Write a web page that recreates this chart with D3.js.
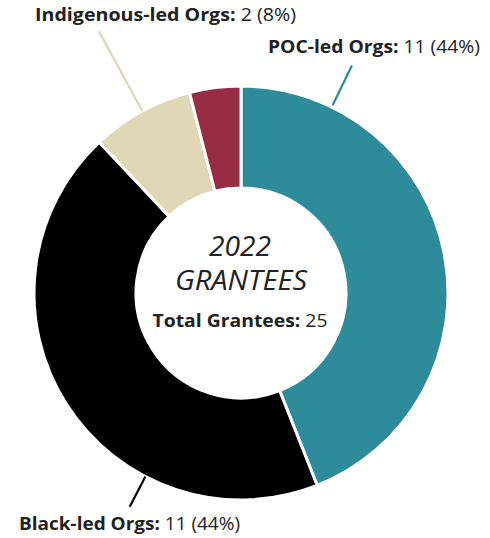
<!DOCTYPE html>
<html>
<head>
<meta charset="utf-8">
<script src="https://cdn.jsdelivr.net/npm/d3@7"></script>
<style>
  body { margin: 0; background: #fff; }
  text { font-family: "Open Sans", sans-serif; fill: #222; }
</style>
</head>
<body>
<div id="vis"></div>
<script>
// chart data
const categories = ["POC-led Orgs", "Black-led Orgs", "Indigenous-led Orgs", "Other"]
const values = [11, 11, 2, 1]
const colors = ["#2e8b9a", "#000000", "#dfd7b6", "#972d43"]
const showLabel = [true, true, true, false]
const totalGrantees = 25

const width = 490
const height = 538
const cx = 241
const cy = 293
const outerR = 207
const innerR = 105

const svg = d3.select("#vis")
    .append("svg")
    .attr("width", width)
    .attr("height", height)

const g = svg.append("g")
    .attr("transform", `translate(${cx}, ${cy})`)

const data = categories.map((c, i) => ({ name: c, value: values[i], color: colors[i], label: showLabel[i] }))

const pie = d3.pie()
    .sort(null)
    .value(d => d.value)

const arc = d3.arc()
    .innerRadius(innerR)
    .outerRadius(outerR)

const arcs = pie(data)

g.selectAll(".slice")
    .data(arcs)
    .enter()
    .append("path")
    .attr("class", "slice")
    .attr("d", arc)
    .attr("fill", d => d.data.color)
    .attr("stroke", "#fff")
    .attr("stroke-width", 3)

// leader lines: angle (deg) and outer length per labelled slice, label placement
const leaders = {
    "POC-led Orgs": { angle: 26, r0: 209, r1: 253, lx: 268, ly: 53, w: 212 },
    "Black-led Orgs": { angle: 207.5, r0: 207, r1: 241, lx: 19, ly: 530, w: 221 },
    "Indigenous-led Orgs": { angle: 331.5, r0: 207, r1: 298, lx: 35, ly: 21, w: 261 }
}

const pt = (a, r) => [cx + r * Math.sin(a * Math.PI / 180), cy - r * Math.cos(a * Math.PI / 180)]

arcs.filter(d => d.data.label).forEach(d => {
    const L = leaders[d.data.name]
    const p0 = pt(L.angle, L.r0)
    const p1 = pt(L.angle, L.r1)
    svg.append("line")
        .attr("x1", p0[0]).attr("y1", p0[1])
        .attr("x2", p1[0]).attr("y2", p1[1])
        .attr("stroke", d.data.color)
        .attr("stroke-width", 2.2)

    const pct = Math.round(d.data.value / totalGrantees * 100)
    const t = svg.append("text")
        .attr("x", L.lx)
        .attr("y", L.ly)
        .attr("font-size", 18)
        .attr("textLength", L.w)
        .attr("lengthAdjust", "spacingAndGlyphs")
    t.append("tspan").attr("font-weight", 700).text(d.data.name + ": ")
    t.append("tspan").attr("font-weight", 400).text(`${d.data.value} (${pct}%)`)
})

// centre text
svg.append("text")
    .attr("x", 240).attr("y", 256)
    .attr("text-anchor", "middle")
    .attr("font-size", 27)
    .attr("font-style", "italic")
    .attr("textLength", 62)
    .attr("lengthAdjust", "spacingAndGlyphs")
    .text("2022")

svg.append("text")
    .attr("x", 241).attr("y", 290)
    .attr("text-anchor", "middle")
    .attr("font-size", 27)
    .attr("font-style", "italic")
    .attr("textLength", 132)
    .attr("lengthAdjust", "spacingAndGlyphs")
    .text("GRANTEES")

const tot = svg.append("text")
    .attr("x", 240).attr("y", 327)
    .attr("text-anchor", "middle")
    .attr("font-size", 18)
    .attr("textLength", 175)
    .attr("lengthAdjust", "spacingAndGlyphs")
tot.append("tspan").attr("font-weight", 700).text("Total Grantees: ")
tot.append("tspan").text(totalGrantees)
</script>
</body>
</html>
